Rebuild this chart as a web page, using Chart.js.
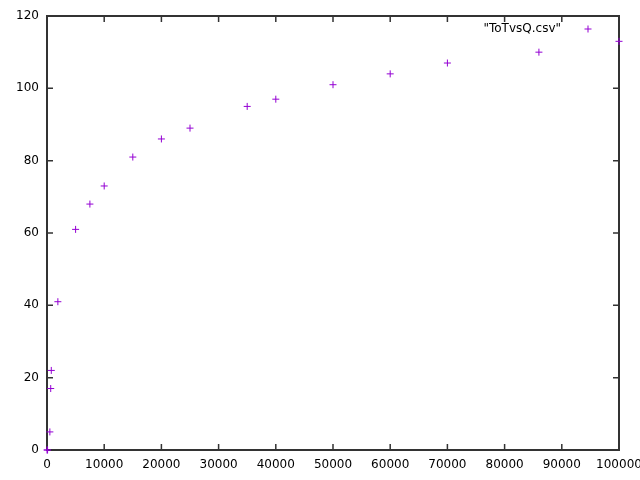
<!DOCTYPE html>
<html>
<head>
<meta charset="utf-8">
<script src="https://cdn.jsdelivr.net/npm/chart.js@4.4.1/dist/chart.umd.min.js"></script>
<style>
  html, body { margin: 0; padding: 0; background: #fff; }
  #wrap { width: 640px; height: 480px; }
</style>
</head>
<body>
<div id="wrap"><canvas id="plot"></canvas></div>
<script>
// data
const seriesName = '"ToTvsQ.csv"';
const qValues   = [0, 100, 500, 650, 750, 1900, 5000, 7500, 10000, 15000, 20000, 25000, 35000, 40000, 50000, 60000, 70000, 86000, 100000];
const totValues = [0, 0, 5, 17, 22, 41, 61, 68, 73, 81, 86, 89, 95, 97, 101, 104, 107, 110, 113];
const xTickValues = [0, 10000, 20000, 30000, 40000, 50000, 60000, 70000, 80000, 90000, 100000];
const yTickValues = [0, 20, 40, 60, 80, 100, 120];

const pointColor = '#9400d3';
const frameColor = '#333333';

// gnuplot style frame: border all round, ticks pointing inwards and mirrored
const framePlugin = {
  id: 'frame',
  beforeDatasetsDraw(chart) {
    const ctx = chart.ctx;
    const a = chart.chartArea;
    const xs = chart.scales.x, ys = chart.scales.y;
    const len = 6;
    ctx.save();
    ctx.strokeStyle = frameColor;
    ctx.lineWidth = 1.5;
    ctx.beginPath();
    xs.ticks.forEach(t => {
      const px = xs.getPixelForValue(t.value);
      ctx.moveTo(px, a.bottom); ctx.lineTo(px, a.bottom - len);
      ctx.moveTo(px, a.top); ctx.lineTo(px, a.top + len);
    });
    ys.ticks.forEach(t => {
      const py = ys.getPixelForValue(t.value);
      ctx.moveTo(a.left, py); ctx.lineTo(a.left + len, py);
      ctx.moveTo(a.right, py); ctx.lineTo(a.right - len, py);
    });
    ctx.stroke();
    ctx.lineWidth = 2;
    ctx.strokeRect(a.left, a.top, a.right - a.left, a.bottom - a.top);
    ctx.restore();
  },
  afterDraw(chart) {
    // key in the top right corner
    const ctx = chart.ctx;
    const a = chart.chartArea;
    const y = a.top + 13;
    const sx = a.right - 31;
    ctx.save();
    ctx.font = '12px "DejaVu Sans"';
    ctx.fillStyle = '#000';
    ctx.textAlign = 'right';
    ctx.textBaseline = 'middle';
    ctx.fillText(chart.data.datasets[0].label, a.right - 58, y);
    ctx.strokeStyle = pointColor;
    ctx.lineWidth = 1;
    ctx.beginPath();
    ctx.moveTo(sx - 3.5, y); ctx.lineTo(sx + 3.5, y);
    ctx.moveTo(sx, y - 3.5); ctx.lineTo(sx, y + 3.5);
    ctx.stroke();
    ctx.restore();
  }
};

new Chart(document.getElementById('plot'), {
  type: 'scatter',
  data: {
    datasets: [{
      label: seriesName,
      data: qValues.map((q, i) => ({ x: q, y: totValues[i] })),
      pointStyle: 'cross',
      pointRadius: 3.5,
      pointHoverRadius: 3.5,
      borderWidth: 1,
      borderColor: pointColor,
      backgroundColor: pointColor,
      clip: false
    }]
  },
  options: {
    responsive: true,
    maintainAspectRatio: false,
    animation: false,
    events: [],
    layout: { padding: { top: 16, right: 21, left: 0, bottom: 0 } },
    plugins: {
      legend: { display: false },
      tooltip: { enabled: false }
    },
    scales: {
      x: {
        type: 'linear',
        min: 0, max: 100000,
        afterBuildTicks: s => { s.ticks = xTickValues.map(v => ({ value: v })); },
        afterFit: s => { s.height = 30; s.paddingLeft = 0; s.paddingRight = 0; },
        grid: { display: false, drawTicks: false },
        border: { display: false },
        ticks: {
          color: '#000',
          padding: 8,
          maxRotation: 0,
          autoSkip: false,
          font: { family: 'DejaVu Sans', size: 12 },
          callback: v => String(v)
        }
      },
      y: {
        type: 'linear',
        min: 0, max: 120,
        afterBuildTicks: s => { s.ticks = yTickValues.map(v => ({ value: v })); },
        afterFit: s => { s.width = 47; s.paddingTop = 0; s.paddingBottom = 0; },
        grid: { display: false, drawTicks: false },
        border: { display: false },
        ticks: {
          color: '#000',
          padding: 8,
          autoSkip: false,
          font: { family: 'DejaVu Sans', size: 12 },
          callback: v => String(v)
        }
      }
    }
  },
  plugins: [framePlugin]
});
</script>
</body>
</html>
